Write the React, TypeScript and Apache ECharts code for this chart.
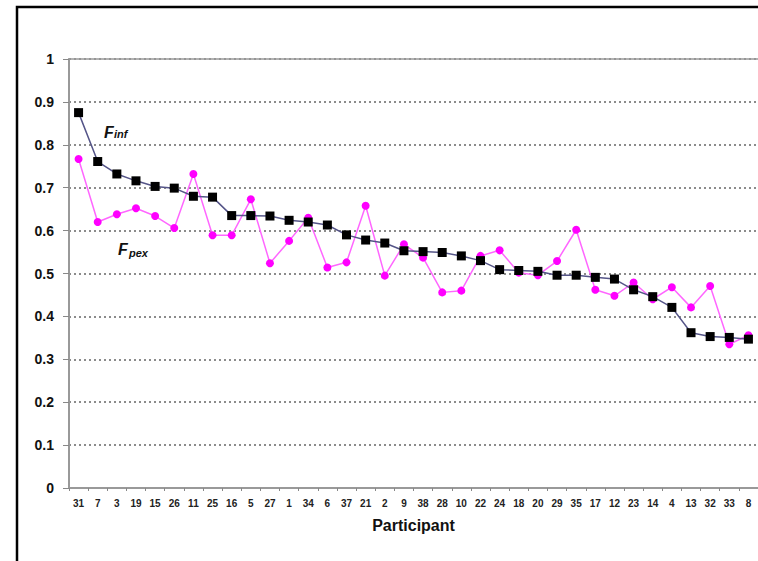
import React, { useEffect, useRef } from "react";
import * as echarts from "echarts";

const participants = ["31","7","3","19","15","26","11","25","16","5","27","1","34","6","37","21","2","9","38","28","10","22","24","18","20","29","35","17","12","23","14","4","13","32","33","8"];
const fInf = [0.875,0.761,0.732,0.716,0.703,0.699,0.680,0.678,0.635,0.635,0.634,0.624,0.620,0.613,0.590,0.578,0.571,0.553,0.551,0.549,0.541,0.530,0.509,0.507,0.505,0.496,0.496,0.491,0.487,0.462,0.446,0.421,0.362,0.353,0.351,0.347];
const fPex = [0.767,0.620,0.638,0.652,0.634,0.606,0.732,0.589,0.589,0.673,0.524,0.576,0.630,0.514,0.526,0.658,0.495,0.568,0.537,0.456,0.460,0.541,0.554,0.502,0.496,0.529,0.602,0.462,0.448,0.479,0.440,0.468,0.421,0.471,0.335,0.356];
const yTicks = [0, 0.1, 0.2, 0.3, 0.4, 0.5, 0.6, 0.7, 0.8, 0.9, 1];

const FONT = "Liberation Sans, Arial, sans-serif";

export default function App() {
  const ref = useRef<HTMLDivElement>(null);
  useEffect(() => {
    if (!ref.current) return;
    const chart = echarts.init(ref.current, null, { renderer: "svg" });
    chart.setOption({
      animation: false,
      backgroundColor: "#ffffff",
      grid: { left: 69, top: 59, right: -2, bottom: 73, containLabel: false },
      xAxis: [
        {
          type: "category",
          data: participants,
          boundaryGap: true,
          axisLine: { show: true, lineStyle: { color: "#999999", width: 2 } },
          axisTick: { show: true, length: 3, lineStyle: { color: "#888888" } },
          axisLabel: {
            interval: 0,
            margin: 10,
            fontFamily: FONT,
            fontWeight: "bold",
            fontSize: 10,
            color: "#222222",
          },
          name: "Participant",
          nameLocation: "middle",
          nameGap: 29,
          nameTextStyle: { fontFamily: FONT, fontWeight: "bold", fontSize: 16, color: "#111111", verticalAlign: "top" },
          splitLine: { show: false },
        },
        {
          type: "category",
          data: participants,
          position: "top",
          axisLine: { show: true, lineStyle: { color: "#999999", width: 1.5 } },
          axisTick: { show: false },
          axisLabel: { show: false },
          splitLine: { show: false },
        },
      ],
      yAxis: {
        type: "value",
        min: 0,
        max: 1,
        interval: 0.1,
        axisLine: { show: true, lineStyle: { color: "#999999", width: 2 } },
        axisTick: { show: true, length: 6, inside: false, lineStyle: { color: "#888888" } },
        axisLabel: {
          margin: 15,
          fontFamily: FONT,
          fontWeight: "bold",
          fontSize: 14,
          color: "#111111",
          formatter: (v: number) => {
            const t = yTicks.find((y) => Math.abs(y - v) < 1e-6);
            return t === undefined ? "" : String(Math.round(t * 10) / 10);
          },
        },
        splitLine: { show: true, lineStyle: { color: "#666666", type: [2, 3], width: 1.5 } },
      },
      graphic: [
        {
          type: "rect",
          shape: { x: 17, y: 7, width: 800, height: 600 },
          style: { fill: "none", stroke: "#000000", lineWidth: 2.5 },
          silent: true,
          z: 100,
        },
        { type: "text", x: 104, y: 124, style: { text: "F", font: `italic bold 16px ${FONT}`, fill: "#111111" } },
        { type: "text", x: 114, y: 128, style: { text: "inf", font: `italic bold 11px ${FONT}`, fill: "#111111" } },
        { type: "text", x: 118, y: 241, style: { text: "F", font: `italic bold 16px ${FONT}`, fill: "#111111" } },
        { type: "text", x: 129, y: 247, style: { text: "pex", font: `italic bold 11px ${FONT}`, fill: "#111111" } },
      ],
      series: [
        {
          name: "Fpex",
          type: "line",
          data: fPex,
          symbol: "circle",
          symbolSize: 8,
          itemStyle: { color: "#ff00ff" },
          lineStyle: { color: "#ff66ff", width: 1.5 },
          z: 2,
        },
        {
          name: "Finf",
          type: "line",
          data: fInf,
          symbol: "rect",
          symbolSize: 9,
          itemStyle: { color: "#000000" },
          lineStyle: { color: "#555588", width: 1.5 },
          z: 3,
        },
      ],
    });
    return () => chart.dispose();
  }, []);
  return (
    <div
      ref={ref}
      style={{ position: "fixed", left: 0, top: 0, width: 758, height: 561, background: "#fff" }}
    />
  );
}
